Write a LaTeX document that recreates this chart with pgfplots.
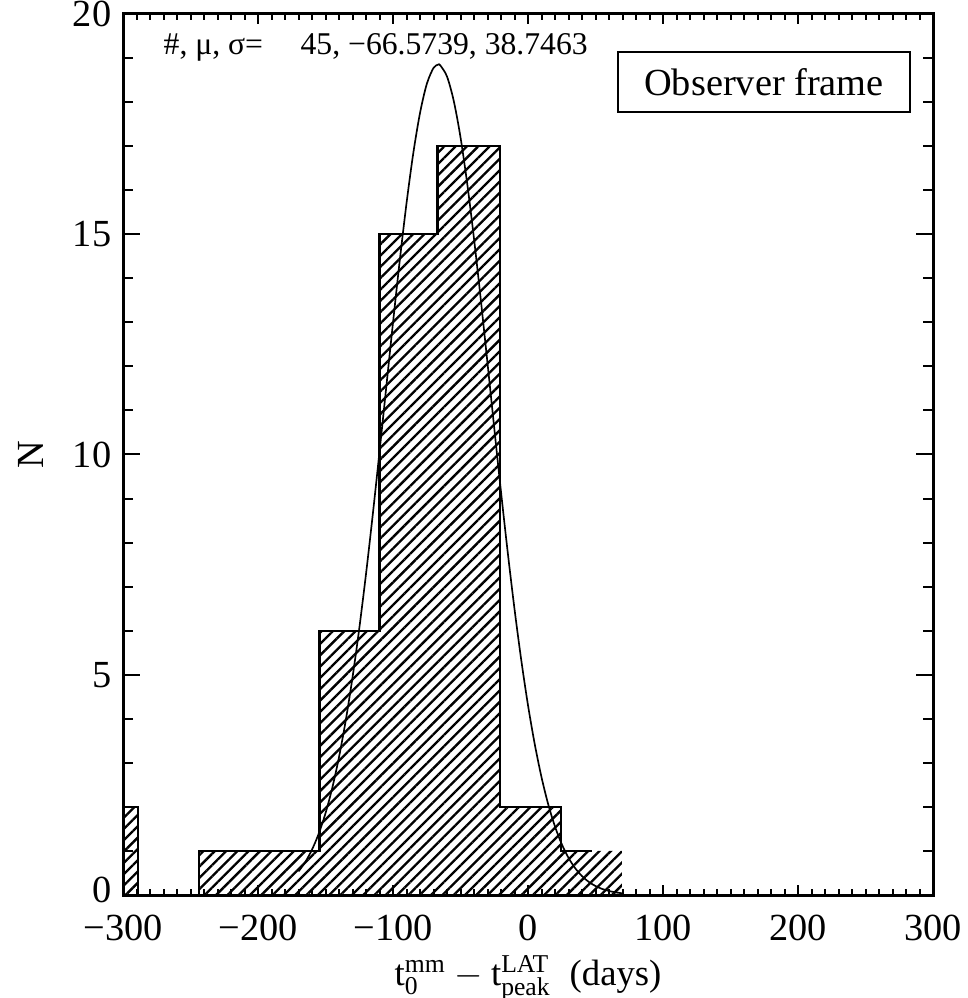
\documentclass[border=0pt]{standalone}
\usepackage{amsmath}
\usepackage{pgfplots}
\pgfplotsset{compat=1.18}
\usetikzlibrary{patterns.meta}
\usepackage{fontspec}
\setmainfont{Liberation Serif}
\begin{document}
\begin{tikzpicture}
\useasboundingbox (0,0) rectangle (290.1pt,299.4pt);
\begin{axis}[
  at={(36.9pt,30.9pt)}, anchor=south west,
  scale only axis, width=243pt, height=264.3pt,
  xmin=-300, xmax=300, ymin=0, ymax=20,
  axis line style={line width=0.9pt},
  xtick={-300,-200,-100,0,100,200,300},
  xticklabels={−300,−200,−100,0,100,200,300},
  ytick={0,5,10,15,20},
  yticklabels={\raisebox{3.3pt}{0},5,10,15,\raisebox{-2.4pt}{20}},
  minor x tick num=9, minor y tick num=4,
  xtick pos=both, ytick pos=both, tick align=inside,
  tick style={line width=0.6pt, black},
  xtick style={/pgfplots/major tick length=3pt, /pgfplots/minor tick length=1.8pt},
  ytick style={/pgfplots/major tick length=5pt, /pgfplots/minor tick length=3pt},
  ticklabel style={font=\fontsize{11.5}{13}\selectfont},
  xticklabel style={yshift=-2.5pt},
  xlabel={$\text{t}_{\text{0}}^{\text{mm}} - \text{t}_{\text{peak}}^{\text{LAT}}$\ \ (days)},
  xlabel style={at={(axis description cs:0.5,-0.1025)}, anchor=base, font=\fontsize{11}{13}\selectfont},
  ylabel={N},
  ylabel style={at={(axis description cs:-0.1136,0.5)}, anchor=center, font=\fontsize{11.5}{13}\selectfont},
  clip=true,
]
% hatched fill of the histogram bins
\addplot[draw=none, pattern={Lines[angle=45,distance=2.4pt,line width=0.7pt]}] coordinates {
  (-300,0) (-300,2) (-289,2) (-289,0)
};
\addplot[draw=none, pattern={Lines[angle=45,distance=2.4pt,line width=0.7pt]}] coordinates {
  (-244,0) (-244,1) (-154.5,1) (-154.5,6) (-110,6) (-110,15) (-67,15) (-67,17)
  (-21,17) (-21,2) (24.6,2) (24.6,1) (69.5,1) (69.5,0)
};
% histogram outline (steps)
\addplot[black, line width=0.65pt] coordinates {
  (-300,2) (-289,2) (-289,0)
};
\addplot[black, line width=0.65pt] coordinates {
  (-244,0) (-244,1) (-154.5,1) (-154.5,6) (-110,6) (-110,15) (-67,15) (-67,17)
  (-21,17) (-21,2) (24.6,2) (24.6,1) (47.5,1)
};
% Gaussian fit (mu=-66.5739, sigma=38.7463)
\addplot[black, line width=0.5pt, smooth] coordinates {
  (-170,0.535) (-165,0.748) (-160,1.030) (-155,1.394) (-150,1.856) (-145,2.430)
  (-140,3.129) (-135,3.964) (-130,4.937) (-125,6.047) (-120,7.286) (-115,8.633)
  (-110,10.060) (-105,11.527) (-100,12.993) (-95,14.403) (-90,15.700) (-85,16.835)
  (-80,17.751) (-75,18.409) (-70,18.776) (-66.57,18.85) (-65,18.834) (-60,18.581)
  (-55,18.027) (-50,17.202) (-45,16.143) (-40,14.899) (-35,13.525) (-30,12.074)
  (-25,10.599) (-20,9.153) (-15,7.774) (-10,6.492) (-5,5.333) (0,4.307)
  (5,3.423) (10,2.675) (15,2.055) (20,1.553) (25,1.155) (30,0.844)
  (35,0.607) (40,0.429) (45,0.298) (50,0.204) (55,0.137) (60,0.091)
  (65,0.059) (70,0.038)
};
\node[anchor=base west, inner sep=0pt, font=\fontsize{9.5}{11}\selectfont] at (axis description cs:0.0494,0.9535) {\#, μ, σ=};
\node[anchor=base west, inner sep=0pt, font=\fontsize{9.5}{11}\selectfont] at (axis description cs:0.2185,0.9535) {45, −66.5739, 38.7463};
\node[draw, line width=0.6pt, fill=white, minimum width=87.6pt, minimum height=18pt, inner sep=0pt, font=\fontsize{11.5}{13}\selectfont] at (axis description cs:0.7914,0.9228) {Observer frame};
\end{axis}
\end{tikzpicture}
\end{document}
